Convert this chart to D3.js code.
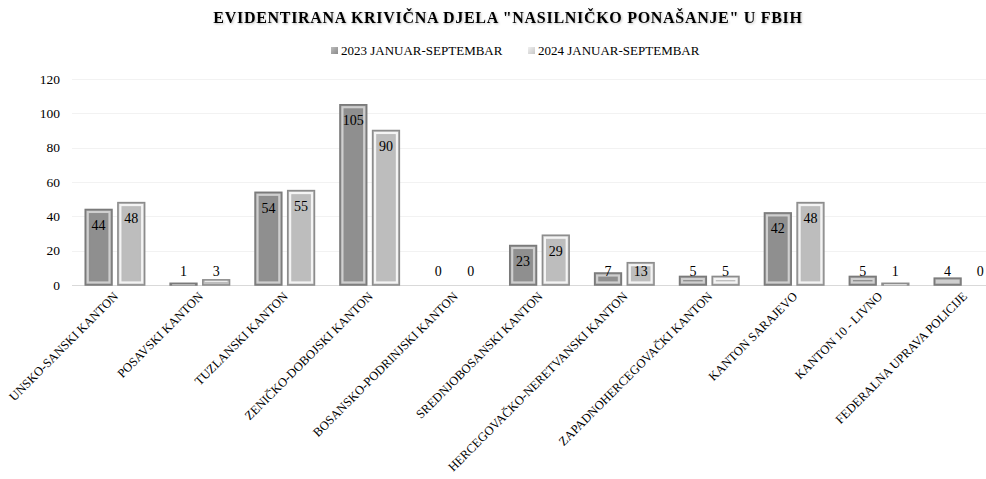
<!DOCTYPE html>
<html><head><meta charset="utf-8">
<script src="https://cdn.jsdelivr.net/npm/d3@7"></script>
<style>
body{margin:0;background:#fff;}
svg{display:block;}
text{font-family:"Liberation Serif","DejaVu Serif",serif;fill:#000;}
</style></head>
<body>
<svg id="c" width="986" height="479"></svg>
<script>
const categories = ["UNSKO-SANSKI KANTON","POSAVSKI KANTON","TUZLANSKI KANTON","ZENIČKO-DOBOJSKI KANTON","BOSANSKO-PODRINJSKI KANTON","SREDNJOBOSANSKI KANTON","HERCEGOVAČKO-NERETVANSKI KANTON","ZAPADNOHERCEGOVAČKI KANTON","KANTON SARAJEVO","KANTON 10 - LIVNO","FEDERALNA UPRAVA POLICIJE"];
const seriesNames = ["2023 JANUAR-SEPTEMBAR","2024 JANUAR-SEPTEMBAR"];
const values2023 = [44,1,54,105,0,23,7,5,42,5,4];
const values2024 = [48,3,55,90,0,29,13,5,48,1,0];
const yTicks = [0,20,40,60,80,100,120];
const title = 'EVIDENTIRANA KRIVIČNA DJELA "NASILNIČKO PONAŠANJE" U FBIH';

const svg = d3.select("#c");
const defs = svg.append("defs");
const styles = [
  {fill:"#8f8f8f", stroke:"#7a7a7a", inner:"#cfcfcf", legendA:"#bdbdbd", legendB:"#8a8a8a"},
  {fill:"#bdbdbd", stroke:"#8c8c8c", inner:"#f4f4f4", legendA:"#f0f0f0", legendB:"#c8c8c8"}
];
styles.forEach((s,i)=>{
  const g = defs.append("linearGradient").attr("id","lg"+i).attr("x1",0).attr("x2",1).attr("y1",0).attr("y2",1);
  g.append("stop").attr("offset","0%").attr("stop-color",s.legendA);
  g.append("stop").attr("offset","100%").attr("stop-color",s.legendB);
});

const y = d3.scaleLinear().domain([0,120]).range([285,79]);
const x0 = d3.scaleBand().domain(categories).range([72.5, 72.5+11*84.9]).paddingInner(0.3).paddingOuter(0.15);
const x1 = d3.scaleBand().domain(seriesNames).range([0, x0.bandwidth()]).paddingInner(0.18);

// title
svg.append("text").attr("x",508).attr("y",23).attr("text-anchor","middle")
  .attr("font-size",16).attr("font-weight","bold").attr("letter-spacing","0.7px")
  .style("filter","drop-shadow(1px 1px 1px rgba(0,0,0,0.25))")
  .text(title);

// legend
const legX = [331, 528];
seriesNames.forEach((n,i)=>{
  svg.append("rect").attr("x",legX[i]).attr("y",47).attr("width",7).attr("height",7).attr("fill","url(#lg"+i+")");
  svg.append("text").attr("x",legX[i]+10).attr("y",55).attr("font-size",13).text(n);
});

// grid
svg.append("g").selectAll("line").data(yTicks).join("line")
  .attr("x1",72).attr("x2",986).attr("y1",d=>Math.round(y(d))+0.5).attr("y2",d=>Math.round(y(d))+0.5)
  .attr("stroke",d=>d===0?"#d9d9d9":"#f2f2f2").attr("stroke-width",1);

// y axis
const yAxis = svg.append("g").attr("transform","translate(64,0)")
  .call(d3.axisLeft(y).tickValues(yTicks).tickSize(0).tickPadding(4));
yAxis.select(".domain").remove();
yAxis.selectAll("text").attr("font-size",13.5).attr("font-family","Liberation Serif, serif").attr("fill","#000");

// bars
const data = categories.map((c,i)=>({c, vals:[values2023[i], values2024[i]]}));
const groups = svg.append("g").selectAll("g").data(data).join("g")
  .attr("transform",d=>`translate(${x0(d.c)},0)`);
groups.each(function(d){
  const g = d3.select(this);
  d.vals.forEach((v,i)=>{
    const s = styles[i];
    const bx = x1(seriesNames[i]), bw = x1.bandwidth();
    const top = y(v), h = y(0)-y(v);
    if (v>0){
      g.append("rect").attr("x",bx).attr("y",top).attr("width",bw).attr("height",Math.max(h,1.5))
        .attr("fill",s.fill).attr("stroke",s.stroke).attr("stroke-width",1.5);
      if (h>6){
        g.append("rect").attr("x",bx+2.5).attr("y",top+2.5).attr("width",bw-5).attr("height",h-5)
          .attr("fill","none").attr("stroke",s.inner).attr("stroke-width",2.2);
        if (h>14){
          g.append("rect").attr("x",bx+4.5).attr("y",top+4.5).attr("width",bw-9).attr("height",h-9)
            .attr("fill","none").attr("stroke",s.fill).attr("stroke-opacity",0.6).attr("stroke-width",1);
        }
      } else {
        g.append("line").attr("x1",bx+2).attr("x2",bx+bw-2).attr("y1",top+1.5).attr("y2",top+1.5)
          .attr("stroke",s.inner).attr("stroke-width",1);
      }
    }
    g.append("text").attr("x",bx+bw/2).attr("y",Math.min(y(v)+15.5,271)+5)
      .attr("text-anchor","middle").attr("font-size",14).text(v);
  });
});

// x labels
svg.append("g").selectAll("text").data(categories).join("text")
  .attr("transform",d=>`translate(${x0(d)+x0.bandwidth()/2+4},${297}) rotate(-45)`)
  .attr("text-anchor","end").attr("font-size",12.5).text(d=>d);
</script>
</body></html>
